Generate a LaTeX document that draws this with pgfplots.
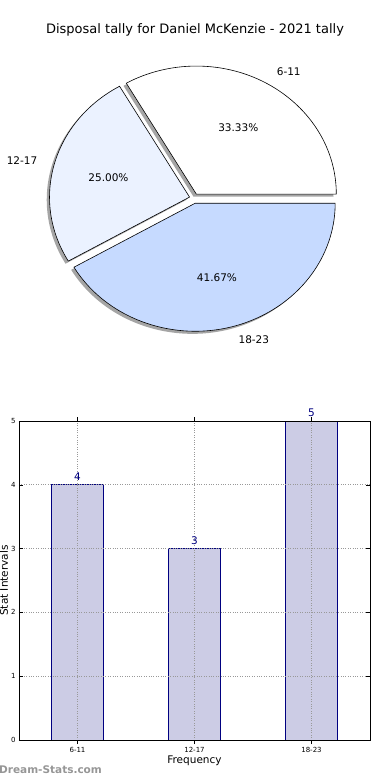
\documentclass[border=0pt]{standalone}
\usepackage{fontspec}
\setmainfont{DejaVu Sans}
\usepackage{pgfplots}
\usepackage{pgfplotstable}
\pgfplotsset{compat=1.18}
\definecolor{pieA}{RGB}{255,255,255}
\definecolor{pieB}{RGB}{235,242,255}
\definecolor{pieC}{RGB}{198,218,255}
\definecolor{barfill}{RGB}{204,204,229}
\definecolor{baredge}{RGB}{0,0,128}
\definecolor{wm}{RGB}{150,150,150}

\pgfplotstableread{
idx label value
0 6-11 4
1 12-17 3
2 18-23 5
}\tally

\begin{document}
\begin{tikzpicture}[x=1pt,y=1pt]
\useasboundingbox (0,0) rectangle (390,780);
\pgfplotstablegetelem{0}{value}\of\tally\edef\vA{\pgfplotsretval}
\pgfplotstablegetelem{1}{value}\of\tally\edef\vB{\pgfplotsretval}
\pgfplotstablegetelem{2}{value}\of\tally\edef\vC{\pgfplotsretval}
\pgfmathsetmacro\tot{\vA+\vB+\vC}
\pgfmathsetmacro\eA{360*\vA/\tot}
\pgfmathsetmacro\eB{\eA+360*\vB/\tot}
\pgfmathsetmacro\mA{\eA/2}
\pgfmathsetmacro\mB{(\eA+\eB)/2}
\pgfmathsetmacro\mC{(\eB+360)/2}
% exploded centres
\pgfmathsetmacro\xA{194+4.6*cos(\mA)}\pgfmathsetmacro\yA{581.6+5.0*sin(\mA)}
\pgfmathsetmacro\xB{194+4.6*cos(\mB)}\pgfmathsetmacro\yB{581.6+5.0*sin(\mB)}
\pgfmathsetmacro\xC{194+4.6*cos(\mC)}\pgfmathsetmacro\yC{581.6+5.0*sin(\mC)}
% start points
\pgfmathsetmacro\sxA{\xA+140}\pgfmathsetmacro\syA{\yA}
\pgfmathsetmacro\sxB{\xB+140*cos(\eA)}\pgfmathsetmacro\syB{\yB+128*sin(\eA)}
\pgfmathsetmacro\sxC{\xC+140*cos(\eB)}\pgfmathsetmacro\syC{\yC+128*sin(\eB)}
% label positions
\pgfmathsetmacro\lxA{\xA+1.1*140*cos(\mA)}\pgfmathsetmacro\lyA{\yA+1.1*128*sin(\mA)}
\pgfmathsetmacro\lxB{\xB+1.1*140*cos(\mB)}\pgfmathsetmacro\lyB{\yB+1.1*128*sin(\mB)}
\pgfmathsetmacro\lxC{\xC+1.1*140*cos(\mC)}\pgfmathsetmacro\lyC{\yC+1.1*128*sin(\mC)}
\pgfmathsetmacro\pxA{\xA+0.6*140*cos(\mA)}\pgfmathsetmacro\pyA{\yA+0.6*128*sin(\mA)}
\pgfmathsetmacro\pxB{\xB+0.6*140*cos(\mB)}\pgfmathsetmacro\pyB{\yB+0.6*128*sin(\mB)}
\pgfmathsetmacro\pxC{\xC+0.6*140*cos(\mC)}\pgfmathsetmacro\pyC{\yC+0.6*128*sin(\mC)}
\pgfmathsetmacro\pctA{100*\vA/\tot}
\pgfmathsetmacro\pctB{100*\vB/\tot}
\pgfmathsetmacro\pctC{100*\vC/\tot}

\begin{axis}[at={(0,0)}, anchor=south west, scale only axis,
  width=390pt, height=780pt, xmin=0, xmax=390, ymin=0, ymax=780,
  hide axis, clip=false]
% shadows
\fill[black!70, opacity=0.5, shift={(-2.8pt,-2.6pt)}] (axis cs:\xA,\yA) -- (axis cs:\sxA,\syA) arc[start angle=0, end angle=\eA, x radius=140pt, y radius=128pt] -- cycle;
\fill[black!70, opacity=0.5, shift={(-2.8pt,-2.6pt)}] (axis cs:\xB,\yB) -- (axis cs:\sxB,\syB) arc[start angle=\eA, end angle=\eB, x radius=140pt, y radius=128pt] -- cycle;
\fill[black!70, opacity=0.5, shift={(-2.8pt,-2.6pt)}] (axis cs:\xC,\yC) -- (axis cs:\sxC,\syC) arc[start angle=\eB, end angle=360, x radius=140pt, y radius=128pt] -- cycle;
% wedges
\filldraw[fill=pieA, draw=black, line width=0.6pt, line join=miter] (axis cs:\xA,\yA) -- (axis cs:\sxA,\syA) arc[start angle=0, end angle=\eA, x radius=140pt, y radius=128pt] -- cycle;
\filldraw[fill=pieB, draw=black, line width=0.6pt, line join=miter] (axis cs:\xB,\yB) -- (axis cs:\sxB,\syB) arc[start angle=\eA, end angle=\eB, x radius=140pt, y radius=128pt] -- cycle;
\filldraw[fill=pieC, draw=black, line width=0.6pt, line join=miter] (axis cs:\xC,\yC) -- (axis cs:\sxC,\syC) arc[start angle=\eB, end angle=360, x radius=140pt, y radius=128pt] -- cycle;
% labels
\node[anchor=west, font=\fontsize{10.5}{12}\selectfont] at (axis cs:\lxA,\lyA) {6-11};
\node[anchor=east, font=\fontsize{10.5}{12}\selectfont] at (axis cs:\lxB,\lyB) {12-17};
\node[anchor=west, font=\fontsize{10.5}{12}\selectfont] at (axis cs:\lxC,\lyC) {18-23};
\node[font=\fontsize{10.5}{12}\selectfont] at (axis cs:\pxA,\pyA) {\pgfmathprintnumber[fixed,fixed zerofill,precision=2,assume math mode=true]{\pctA}\%};
\node[font=\fontsize{10.5}{12}\selectfont] at (axis cs:\pxB,\pyB) {\pgfmathprintnumber[fixed,fixed zerofill,precision=2,assume math mode=true]{\pctB}\%};
\node[font=\fontsize{10.5}{12}\selectfont] at (axis cs:\pxC,\pyC) {\pgfmathprintnumber[fixed,fixed zerofill,precision=2,assume math mode=true]{\pctC}\%};
\node[font=\fontsize{13}{15}\selectfont] at (axis cs:195,750) {Disposal tally for Daniel McKenzie - 2021 tally};
\node[anchor=west, inner sep=0pt, font=\bfseries\fontsize{10.5}{12}\selectfont, text=wm] at (axis cs:-1,10) {Dream-Stats.com};
\end{axis}

\begin{axis}[at={(19pt,40pt)}, anchor=south west, scale only axis,
  width=351pt, height=319pt,
  xmin=-0.5, xmax=2.5, ymin=0, ymax=5,
  xtick={0,1,2}, xticklabels={6-11,12-17,18-23},
  ytick={0,1,2,3,4,5},
  /pgf/number format/assume math mode=true,
  tick label style={font=\fontsize{7}{8}\selectfont},
  tick align=inside, major tick length=4pt,
  tick style={black, line width=0.5pt},
  xtick pos=both, ytick pos=both,
  grid=major, grid style={dotted, black!40, line width=0.8pt},
  axis on top,
  axis line style={black, line width=0.8pt},
  xlabel={Frequency}, ylabel={Stat Intervals},
  label style={font=\fontsize{10.5}{12}\selectfont},
  xlabel style={at={(axis description cs:0.5,0)}, anchor=center, yshift=-21pt},
  ylabel style={at={(axis description cs:-0.0427,0.5)}, anchor=center},
  ybar, bar width=52pt, bar shift=0pt,
  nodes near coords,
  every node near coord/.append style={font=\fontsize{10.5}{12}\selectfont, text=baredge, anchor=south, inner sep=1pt, yshift=2.5pt},
]
\addplot[fill=barfill, draw=baredge, line width=0.8pt] table[x=idx, y=value] {\tally};
\end{axis}
\end{tikzpicture}
\end{document}
